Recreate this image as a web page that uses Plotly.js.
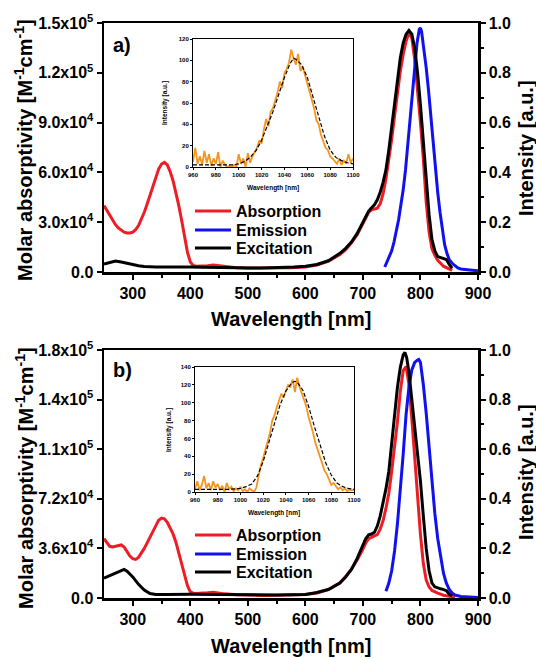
<!DOCTYPE html>
<html>
<head>
<meta charset="utf-8">
<script src="https://cdn.plot.ly/plotly-3.0.1.min.js"></script>
<style>
  html, body { margin: 0; padding: 0; background: #fff; }
  #chart { width: 536px; height: 659px; }
</style>
</head>
<body>
<div id="chart"></div>
<script>
// ---------- Panel a) ----------
const absA_wl = [250,255,260,265,270,275,280,285,290,295,300,305,310,315,320,325,330,335,340,345,350,355,360,365,370,375,380,385,390,395,400,405,410,420,430,440,450,460,480,500,525,550,575,600,620,640,660,670,680,690,700,705,710,715,720,725,730,735,740,745,750,755,760,765,770,775,780,785,790,795,800,805,810,815,820,825,830,840,850,855];
const absA = [40000,37000,34000,31000,28500,26500,25000,24000,23500,23500,24000,25500,28000,31500,36000,41000,46500,52000,57500,62000,65000,66000,64500,60500,55000,48000,40000,31000,21000,12000,6000,4000,3500,3500,3800,4200,3800,3000,2500,2300,2300,2400,2600,3000,4200,6500,10500,13500,17500,22500,29000,33000,36000,37500,38000,38500,41000,47000,56000,67000,80000,94000,108000,121000,131000,139000,144000,141000,128000,110000,90000,68000,42000,24000,14000,10000,7000,3500,1500,1000];

const excA_wl = [250,260,270,280,290,300,310,320,330,340,350,360,370,380,390,400,420,440,460,480,500,520,540,560,580,600,620,640,660,670,680,690,700,705,710,715,720,725,730,735,740,745,750,755,760,765,770,775,780,785,790,795,800,805,810,815,820,825,830,835,840,845,850,855];
const excA = [0.032,0.038,0.044,0.040,0.034,0.029,0.025,0.022,0.020,0.020,0.020,0.020,0.021,0.023,0.022,0.020,0.019,0.018,0.017,0.016,0.016,0.016,0.017,0.018,0.020,0.023,0.030,0.045,0.075,0.095,0.12,0.155,0.20,0.225,0.245,0.258,0.27,0.29,0.32,0.36,0.41,0.49,0.58,0.68,0.78,0.86,0.92,0.955,0.97,0.955,0.90,0.80,0.67,0.52,0.37,0.23,0.13,0.085,0.062,0.057,0.055,0.05,0.03,0.015];

const emA_wl = [738,742,746,750,754,758,762,766,770,774,778,782,786,790,794,798,800,802,806,810,814,818,822,826,830,834,838,842,846,850,855,860,865,870,880,890,900];
const emA = [0.02,0.04,0.06,0.085,0.12,0.16,0.21,0.27,0.33,0.41,0.51,0.62,0.73,0.83,0.92,0.975,0.98,0.965,0.90,0.82,0.73,0.62,0.51,0.41,0.32,0.24,0.17,0.11,0.075,0.05,0.035,0.024,0.016,0.012,0.008,0.007,0.005];

// NIR inset a): measured signal and fitted curve
const insA_wl = [960,962,964,966,968,970,972,974,976,978,980,982,984,986,988,990,992,994,996,998,1000,1002,1004,1006,1008,1010,1012,1014,1016,1018,1020,1022,1024,1026,1028,1030,1032,1034,1036,1038,1040,1042,1044,1046,1048,1050,1052,1054,1056,1058,1060,1062,1064,1066,1068,1070,1072,1074,1076,1078,1080,1082,1084,1086,1088,1090,1092,1094,1096,1098,1100];
const insA = [5,18,3,10,2,15,4,12,1,8,3,14,0,6,2,0,1,0,2,0,12,3,8,0,13,4,10,14,18,25,22,35,45,38,52,55,62,70,80,74,88,92,98,110,102,96,106,90,94,86,80,72,62,55,44,40,30,24,18,16,10,8,5,3,8,2,6,3,12,4,8];
const fitA_wl = [960,965,970,975,980,985,990,995,1000,1005,1010,1015,1020,1025,1030,1035,1040,1045,1048,1050,1055,1060,1065,1070,1075,1080,1085,1090,1095,1100];
const fitA = [2,2,2,2,2,2,2,2,3,5,9,15,25,38,52,68,84,97,102,101,96,84,66,46,29,16,9,6,4,3];

// ---------- Panel b) ----------
const absB_wl = [250,255,260,265,270,275,280,285,290,295,300,305,310,315,320,325,330,335,340,345,350,355,360,365,370,375,380,385,390,395,400,405,410,420,430,440,450,460,480,500,525,550,575,600,620,640,660,670,680,690,700,705,710,715,720,725,730,735,740,745,750,755,760,765,770,775,780,785,790,795,800,805,810,815,820,830,840,850,860];
const absB = [43000,40000,37500,37000,37500,38500,38500,37000,33500,30500,28500,28000,29500,32500,36000,40000,44000,49000,53000,56500,58000,57500,55000,51000,46500,40500,33000,25000,16500,9000,4500,3500,3200,3300,3800,4200,3600,3000,2400,2000,1900,2000,2200,2600,3600,6200,11000,15500,21000,27500,35500,40000,43000,44000,44500,46000,50000,56000,65000,76000,92000,108000,128000,150000,165000,168000,155000,130000,100000,72000,46000,25000,13000,8000,5500,3500,2000,1200,800];

const excB_wl = [250,260,270,280,285,290,300,310,320,330,340,360,380,400,450,500,550,600,620,640,660,670,680,690,700,705,710,715,720,725,730,735,740,745,750,755,760,765,770,773,776,780,785,790,795,800,805,810,815,820,825,830,835,840,845,850,855];
const excB = [0.08,0.09,0.10,0.112,0.115,0.108,0.085,0.055,0.032,0.018,0.014,0.014,0.016,0.015,0.014,0.012,0.012,0.014,0.022,0.034,0.06,0.085,0.115,0.16,0.21,0.24,0.255,0.258,0.265,0.29,0.33,0.38,0.44,0.51,0.62,0.74,0.85,0.93,0.98,0.99,0.97,0.91,0.80,0.68,0.58,0.47,0.33,0.20,0.11,0.06,0.045,0.04,0.037,0.034,0.03,0.015,0.008];

const emB_wl = [740,745,750,755,760,765,770,775,780,785,790,795,797,800,805,810,815,820,825,830,835,840,845,850,855,860,870,880,890,900];
const emB = [0.027,0.06,0.11,0.19,0.30,0.43,0.58,0.74,0.85,0.92,0.95,0.96,0.962,0.95,0.86,0.745,0.61,0.47,0.34,0.24,0.16,0.10,0.06,0.035,0.02,0.012,0.006,0.004,0.003,0.002];

// NIR inset b)
const insB_wl = insA_wl;
const insB = [3,12,2,8,18,4,10,2,12,5,9,2,7,0,10,3,6,1,4,2,6,1,3,0,4,2,0,5,18,30,38,48,58,66,80,86,95,102,110,106,114,120,118,126,112,128,118,110,102,96,84,76,66,55,48,40,32,24,20,14,8,10,6,3,5,2,4,1,3,2,2];
const fitB_wl = [960,970,980,990,1000,1005,1010,1015,1020,1025,1030,1035,1040,1045,1048,1050,1055,1060,1065,1070,1075,1080,1085,1090,1095,1100];
const fitB = [3,3,3,3,4,6,9,18,34,55,78,98,113,122,124,123,114,96,74,52,33,19,10,6,4,3];

// Axis tick labels
const xTicks = [300,400,500,600,700,800,900];
const yTicksA = [0,30000,60000,90000,120000,150000];
const yTextA = ['0.0','3.0x10<sup>4</sup>','6.0x10<sup>4</sup>','9.0x10<sup>4</sup>','1.2x10<sup>5</sup>','1.5x10<sup>5</sup>'];
const yTicksB = [0,36000,72000,108000,144000,180000];
const yTextB = ['0.0','3.6x10<sup>4</sup>','7.2x10<sup>4</sup>','1.1x10<sup>5</sup>','1.4x10<sup>5</sup>','1.8x10<sup>5</sup>'];
const rTicks = [0,0.2,0.4,0.6,0.8,1.0];

const RED = '#ee1c25', BLUE = '#1010f0', BLACK = '#000000', ORANGE = '#f7941d';
const FONT = 'Liberation Sans, Arial, sans-serif';
const W = 536, H = 659;
const px = v => v / W;
const py = v => 1 - v / H;

const traces = [
  {x: absA_wl, y: absA, name: 'Absorption', xaxis: 'x', yaxis: 'y', mode: 'lines', line: {color: RED, width: 3}, legend: 'legend'},
  {x: emA_wl, y: emA, name: 'Emission', xaxis: 'x', yaxis: 'y2', mode: 'lines', line: {color: BLUE, width: 3}, legend: 'legend2'},
  {x: excA_wl, y: excA, name: 'Excitation', xaxis: 'x', yaxis: 'y2', mode: 'lines', line: {color: BLACK, width: 3}, legend: 'legend3'},
  {x: absB_wl, y: absB, name: 'Absorption', xaxis: 'x2', yaxis: 'y3', mode: 'lines', line: {color: RED, width: 3}, legend: 'legend4'},
  {x: emB_wl, y: emB, name: 'Emission', xaxis: 'x2', yaxis: 'y4', mode: 'lines', line: {color: BLUE, width: 3}, legend: 'legend5'},
  {x: excB_wl, y: excB, name: 'Excitation', xaxis: 'x2', yaxis: 'y4', mode: 'lines', line: {color: BLACK, width: 3}, legend: 'legend6'},
  {x: insA_wl, y: insA, xaxis: 'x3', yaxis: 'y5', mode: 'lines', line: {color: ORANGE, width: 1.8}, showlegend: false},
  {x: fitA_wl, y: fitA, xaxis: 'x3', yaxis: 'y5', mode: 'lines', line: {color: BLACK, width: 1.2, dash: '4px,2px'}, showlegend: false},
  {x: insB_wl, y: insB, xaxis: 'x4', yaxis: 'y6', mode: 'lines', line: {color: ORANGE, width: 1.8}, showlegend: false},
  {x: fitB_wl, y: fitB, xaxis: 'x4', yaxis: 'y6', mode: 'lines', line: {color: BLACK, width: 1.2, dash: '4px,2px'}, showlegend: false}
];

const tickFont = {family: FONT, size: 16, color: '#000', weight: 'bold'};
const smallFont = {family: FONT, size: 6, color: '#000', weight: 'bold'};

function mainX(domain, anchor) {
  return {
    domain: domain, anchor: anchor, range: [250, 900],
    tickmode: 'array', tickvals: xTicks, tickfont: tickFont,
    ticks: 'outside', ticklen: 5, tickwidth: 2, tickcolor: '#000',
    minor: {tickmode: 'array', tickvals: [350,450,550,650,750,850], ticks: 'outside', ticklen: 3, tickwidth: 2, tickcolor: '#000'},
    showline: true, linewidth: 2.5, linecolor: '#000', mirror: true,
    showgrid: false, zeroline: false
  };
}
function leftY(domain, anchor, vals, text, max) {
  return {
    domain: domain, anchor: anchor, range: [0, max],
    tickmode: 'array', tickvals: vals, ticktext: text, tickfont: tickFont,
    ticks: 'outside', ticklen: 5, tickwidth: 2, tickcolor: '#000',
    showline: true, linewidth: 2.5, linecolor: '#000',
    showgrid: false, zeroline: false
  };
}
function rightY(overlay, anchor) {
  return {
    overlaying: overlay, anchor: anchor, side: 'right', range: [0, 1],
    tickmode: 'array', tickvals: rTicks, tickformat: '.1f', tickfont: tickFont,
    ticks: 'outside', ticklen: 5, tickwidth: 2, tickcolor: '#000',
    minor: {tickmode: 'array', tickvals: [0.1,0.3,0.5,0.7,0.9], ticks: 'outside', ticklen: 3, tickwidth: 2, tickcolor: '#000'},
    showline: true, linewidth: 2.5, linecolor: '#000',
    showgrid: false, zeroline: false
  };
}
function insetX(domain, anchor) {
  return {
    domain: domain, anchor: anchor, range: [960, 1100], dtick: 20, tick0: 960,
    tickfont: smallFont, ticks: 'outside', ticklen: 2, tickwidth: 1, tickcolor: '#000',
    showline: true, linewidth: 1, linecolor: '#000', mirror: true,
    showgrid: false, zeroline: false
  };
}
function insetY(domain, anchor, max) {
  return {
    domain: domain, anchor: anchor, range: [0, max], dtick: 20, tick0: 0,
    tickfont: smallFont, ticks: 'outside', ticklen: 2, tickwidth: 1, tickcolor: '#000',
    showline: true, linewidth: 1, linecolor: '#000', mirror: true,
    showgrid: false, zeroline: false
  };
}

const domXMain = [px(104), px(478)];
const domYa = [py(272), py(23)];
const domYb = [py(598), py(350)];

// one single-entry legend per curve so the rows can sit close together
function legendAt(yPix) {
  return {
    x: px(190), y: py(yPix), xanchor: 'left', yanchor: 'middle',
    bgcolor: 'rgba(0,0,0,0)',
    font: {family: FONT, size: 16, color: '#000', weight: 'bold'},
    tracegroupgap: 0, itemwidth: 36
  };
}

const titleFont = {family: FONT, size: 20, color: '#000', weight: 'bold'};
const wlFont = {family: FONT, size: 20, color: '#000', weight: 'bold'};
const insTitleFont = {family: FONT, size: 6.5, color: '#000', weight: 'bold'};

function ann(text, x, y, font, angle) {
  return {text: text, x: px(x), y: py(y), xref: 'paper', yref: 'paper',
    showarrow: false, font: font, textangle: angle || 0, xanchor: 'center', yanchor: 'middle'};
}

const layout = {
  width: W, height: H,
  margin: {l: 0, r: 0, t: 0, b: 0},
  paper_bgcolor: '#fff', plot_bgcolor: '#fff',
  xaxis: mainX(domXMain, 'y'),
  yaxis: leftY(domYa, 'x', yTicksA, yTextA, 150000),
  yaxis2: rightY('y', 'x'),
  xaxis2: mainX(domXMain, 'y3'),
  yaxis3: leftY(domYb, 'x2', yTicksB, yTextB, 180000),
  yaxis4: rightY('y3', 'x2'),
  xaxis3: insetX([px(193), px(353)], 'y5'),
  yaxis5: insetY([py(167), py(39)], 'x3', 120),
  xaxis4: insetX([px(195), px(354)], 'y6'),
  yaxis6: insetY([py(492), py(367)], 'x4', 140),
  legend: legendAt(211),
  legend2: legendAt(230),
  legend3: legendAt(248),
  legend4: legendAt(535),
  legend5: legendAt(554),
  legend6: legendAt(572),
  annotations: [
    ann('Molar absorptivity [M<sup>-1</sup>cm<sup>-1</sup>]', 24, 150, titleFont, -90),
    ann('Molar absorptivity [M<sup>-1</sup>cm<sup>-1</sup>]', 24, 478, titleFont, -90),
    ann('Intensity [a.u.]', 526, 148, titleFont, -90),
    ann('Intensity [a.u.]', 526, 472, titleFont, -90),
    ann('Wavelength [nm]', 291, 319, wlFont, 0),
    ann('Wavelength [nm]', 291, 646, wlFont, 0),
    ann('a)', 122, 45, wlFont, 0),
    ann('b)', 122, 370, wlFont, 0),
    ann('Intensity [a.u.]', 165, 103, insTitleFont, -90),
    ann('Wavelength [nm]', 273, 188, insTitleFont, 0),
    ann('Intensity [a.u.]', 169, 430, insTitleFont, -90),
    ann('Wavelength [nm]', 274, 513, insTitleFont, 0)
  ]
};

Plotly.newPlot('chart', traces, layout, {displayModeBar: false, staticPlot: true});
</script>
</body>
</html>
